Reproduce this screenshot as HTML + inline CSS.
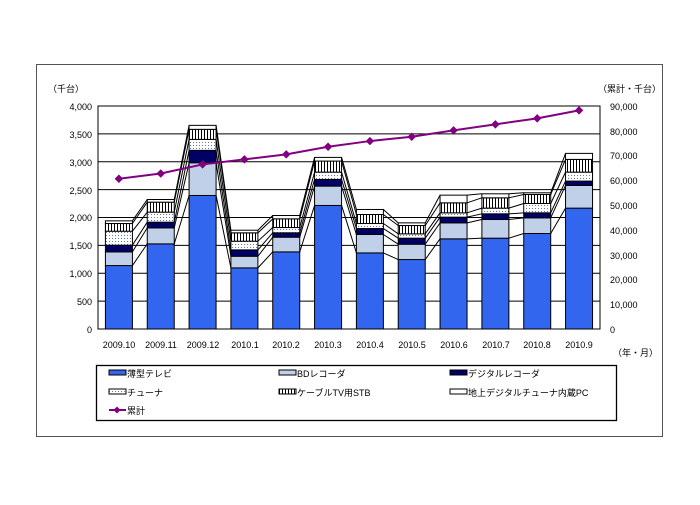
<!DOCTYPE html><html><head><meta charset="utf-8"><style>
body{margin:0;background:#fff;width:700px;height:500px;overflow:hidden}
text{font-family:"Liberation Sans","Noto Sans CJK JP",sans-serif;font-size:9px;fill:#000}
</style></head><body>
<svg id="s" width="700" height="500" xmlns="http://www.w3.org/2000/svg">
<defs>
<pattern id="dot" width="3" height="3" patternUnits="userSpaceOnUse"><rect width="3" height="3" fill="#fff"/><rect x="1" y="1" width="1" height="1" fill="#6677aa"/></pattern>
<pattern id="stb" width="3" height="4" patternUnits="userSpaceOnUse"><rect width="3" height="4" fill="#fff"/><rect x="0" y="0" width="1" height="4" fill="#000"/></pattern>
</defs>
<rect x="36.5" y="64.5" width="626" height="372" fill="#fff" stroke="#555" stroke-width="1"/>
<rect x="98" y="106" width="502" height="223" fill="#fff" stroke="#000"/>
<g id="grid"></g><g id="bars"></g><g id="line"></g>
<text x="48" y="92">（千台）</text>
<g text-anchor="end">
<text x="92" y="110">4,000</text><text x="92" y="138">3,500</text><text x="92" y="166">3,000</text><text x="92" y="194">2,500</text><text x="92" y="221">2,000</text><text x="92" y="249">1,500</text><text x="92" y="277">1,000</text><text x="92" y="305">500</text><text x="92" y="333">0</text>
</g>
<text x="598" y="92">（累計・千台）</text>
<g>
<text x="610" y="110">90,000</text><text x="610" y="135">80,000</text><text x="610" y="159">70,000</text><text x="610" y="184">60,000</text><text x="610" y="209">50,000</text><text x="610" y="234">40,000</text><text x="610" y="259">30,000</text><text x="610" y="283">20,000</text><text x="610" y="308">10,000</text><text x="610" y="333">0</text>
</g>
<g text-anchor="middle">
<text x="119" y="348">2009.10</text><text x="161" y="348">2009.11</text><text x="203" y="348">2009.12</text><text x="245" y="348">2010.1</text><text x="286" y="348">2010.2</text><text x="328" y="348">2010.3</text><text x="370" y="348">2010.4</text><text x="412" y="348">2010.5</text><text x="454" y="348">2010.6</text><text x="496" y="348">2010.7</text><text x="537" y="348">2010.8</text><text x="579" y="348">2010.9</text>
</g>
<text x="613" y="356">（年・月）</text>
<rect x="96.5" y="365.5" width="520" height="55" fill="#fff" stroke="#000" stroke-width="1.3"/>
<rect x="109" y="370" width="17" height="5" fill="#3366ee" stroke="#000"/><text x="127" y="377">薄型テレビ</text>
<rect x="279" y="370" width="17" height="5" fill="#c0d0e8" stroke="#000"/><text x="297" y="377">BDレコーダ</text>
<rect x="450" y="370" width="17" height="5" fill="#000066" stroke="#000"/><text x="468" y="377">デジタルレコーダ</text>
<rect x="109" y="389" width="17" height="5" fill="url(#dot)" stroke="#000"/><text x="127" y="396">チューナ</text>
<rect x="279" y="389" width="17" height="5" fill="url(#stb)" stroke="#000"/><text x="297" y="396">ケーブルTV用STB</text>
<rect x="450" y="389" width="17" height="5" fill="#fff" stroke="#000"/><text x="468" y="396">地上デジタルチューナ内蔵PC</text>
<line x1="109" y1="410" x2="126" y2="410" stroke="#800080" stroke-width="2"/><rect x="114.5" y="407.5" width="5" height="5" fill="#800080" transform="rotate(45 117 410)"/><text x="127" y="414">累計</text>
</svg>
<script>
var NS="http://www.w3.org/2000/svg";
function el(p,t,a){var e=document.createElementNS(NS,t);for(var k in a)e.setAttribute(k,a[k]);document.getElementById(p).appendChild(e);return e;}
function Y(v){return 329-v*0.05575;}
for(var g=500;g<4000;g+=500)el("grid","line",{x1:98,x2:600,y1:Y(g),y2:Y(g),stroke:"#000","stroke-width":1});
for(var i=0;i<12;i++){var tx=98+41.83*(i+0.5)+0.5;}
var d=[[1138,1383,1503,1754,1892,1940],[1527,1814,1916,2096,2275,2323],[2395,2982,3204,3401,3581,3653],[1096,1305,1419,1575,1725,1772],[1383,1647,1725,1820,1976,2036],[2216,2563,2683,2814,3012,3078],[1365,1695,1802,1892,2054,2144],[1246,1521,1629,1707,1856,1904],[1617,1904,2006,2084,2263,2401],[1629,1964,2066,2168,2353,2425],[1713,1994,2084,2251,2413,2443],[2168,2575,2653,2814,3042,3150]];
var f=["#3366ee","#c0d0e8","#000066","url(#dot)","url(#stb)","#fff"];
var w=27;
for(var i=0;i<12;i++){var cx=98+41.83*(i+0.5);var prev=0;
 for(var s=0;s<6;s++){var t=d[i][s];el("bars","rect",{x:cx-w/2,y:Y(t),width:w,height:Y(prev)-Y(t),fill:f[s],stroke:"#000","stroke-width":1});prev=t;}
 if(i<11){var nx=98+41.83*(i+1.5);for(var s=0;s<6;s++)el("bars","line",{x1:cx+w/2,y1:Y(d[i][s]),x2:nx-w/2,y2:Y(d[i+1][s]),stroke:"#000","stroke-width":1});}
}
var c=[2695,2790,2952,3042,3132,3269,3371,3449,3563,3671,3778,3922];
var pts=c.map(function(v,i){return (98+41.83*(i+0.5))+","+Y(v);}).join(" ");
el("line","polyline",{points:pts,fill:"none",stroke:"#800080","stroke-width":2});
c.forEach(function(v,i){var x=98+41.83*(i+0.5),y=Y(v);el("line","rect",{x:x-3,y:y-3,width:6,height:6,fill:"#800080",transform:"rotate(45 "+x+" "+y+")"});});
</script>
</body></html>
